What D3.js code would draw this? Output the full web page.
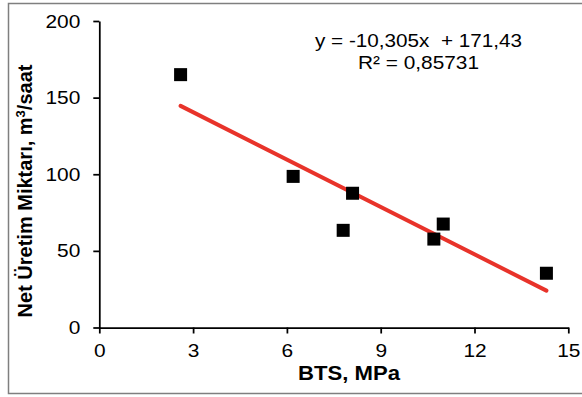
<!DOCTYPE html>
<html>
<head>
<meta charset="utf-8">
<script src="https://cdn.jsdelivr.net/npm/d3@7"></script>
<style>
  body { margin: 0; background: #fff; }
  text { font-family: "Liberation Sans", Arial, sans-serif; }
</style>
</head>
<body>
<div id="chart"></div>
<script>
// data
var bts = [2.6, 6.2, 7.8, 8.1, 10.7, 11.0, 14.3];
var uretim = [165, 98.6, 63.4, 87.6, 57.7, 67.5, 35.4];
var xTicks = [0, 3, 6, 9, 12, 15];
var yTicks = [0, 50, 100, 150, 200];
var slope = -10.305, intercept = 171.43;
var eqText = "y = -10,305x  + 171,43";
var r2Text = "R² = 0,85731";

var W = 582, H = 397;
var margin = {top: 21, right: 14, bottom: 69.5, left: 99.3},
	width = 568.3 - margin.left,
	height = 327.5 - margin.top;

var svg = d3.select("#chart")
	.append("svg")
		.attr("width", W)
		.attr("height", H);

// outer frame (right edge runs off the picture)
svg.append("rect")
	.attr("x", 8.5).attr("y", 3.5)
	.attr("width", 580).attr("height", 390)
	.attr("fill", "none")
	.attr("stroke", "#7f7f7f")
	.attr("stroke-width", 1.5);

var g = svg.append("g")
	.attr("transform", "translate(" + margin.left + "," + margin.top + ")");

var x = d3.scaleLinear().domain([0, 15]).range([0, width]);
var y = d3.scaleLinear().domain([0, 200]).range([height, 0]);

// axes
var xAxis = g.append("g")
	.attr("transform", "translate(0," + height + ")")
	.call(d3.axisBottom(x).tickValues(xTicks).tickSize(6).tickPadding(10).tickSizeOuter(0));
var yAxis = g.append("g")
	.call(d3.axisLeft(y).tickValues(yTicks).tickSize(6).tickPadding(13).tickSizeOuter(0));

[xAxis, yAxis].forEach(function(a) {
	a.selectAll("path, line").attr("stroke", "#000").attr("stroke-width", 1.75);
	a.selectAll("text")
		.attr("fill", "#000")
		.style("font-size", "19px")
		.style("font-family", "'Liberation Sans', Arial, sans-serif")
		.each(function() {
			// glyphs in the picture are a little wider than Arial
			var len = this.getComputedTextLength();
			d3.select(this).attr("textLength", len * 1.1).attr("lengthAdjust", "spacingAndGlyphs");
		});
});

// trend line
var xr = d3.extent(bts);
g.append("line")
	.attr("x1", x(xr[0])).attr("y1", y(slope * xr[0] + intercept))
	.attr("x2", x(xr[1])).attr("y2", y(slope * xr[1] + intercept))
	.attr("stroke", "#e8332a")
	.attr("stroke-width", 4)
	.attr("stroke-linecap", "round");

// points
var sq = 13;
g.selectAll("rect.pt")
	.data(bts)
	.enter().append("rect")
		.attr("class", "pt")
		.attr("x", function(d) { return x(d) - sq / 2; })
		.attr("y", function(d, i) { return y(uretim[i]) - sq / 2; })
		.attr("width", sq).attr("height", sq)
		.attr("fill", "#000");

// equation
svg.append("text")
	.attr("x", 315).attr("y", 47)
	.attr("textLength", 207).attr("lengthAdjust", "spacingAndGlyphs")
	.style("font-size", "19px")
	.style("white-space", "pre")
	.text(eqText);
svg.append("text")
	.attr("x", 358).attr("y", 69)
	.attr("textLength", 121).attr("lengthAdjust", "spacingAndGlyphs")
	.style("font-size", "19px")
	.text(r2Text);

// axis titles
svg.append("text")
	.attr("x", 298).attr("y", 380)
	.attr("textLength", 102).attr("lengthAdjust", "spacingAndGlyphs")
	.style("font-size", "20px")
	.style("font-weight", "bold")
	.text("BTS, MPa");

var yt = svg.append("text")
	.attr("transform", "translate(32,191) rotate(-90)")
	.attr("text-anchor", "middle")
	.style("font-size", "20px")
	.style("font-weight", "bold");
yt.append("tspan").text("Net Üretim Miktarı, m");
yt.append("tspan").attr("baseline-shift", "super").style("font-size", "13px").text("3");
yt.append("tspan").text("/saat");
</script>
</body>
</html>
